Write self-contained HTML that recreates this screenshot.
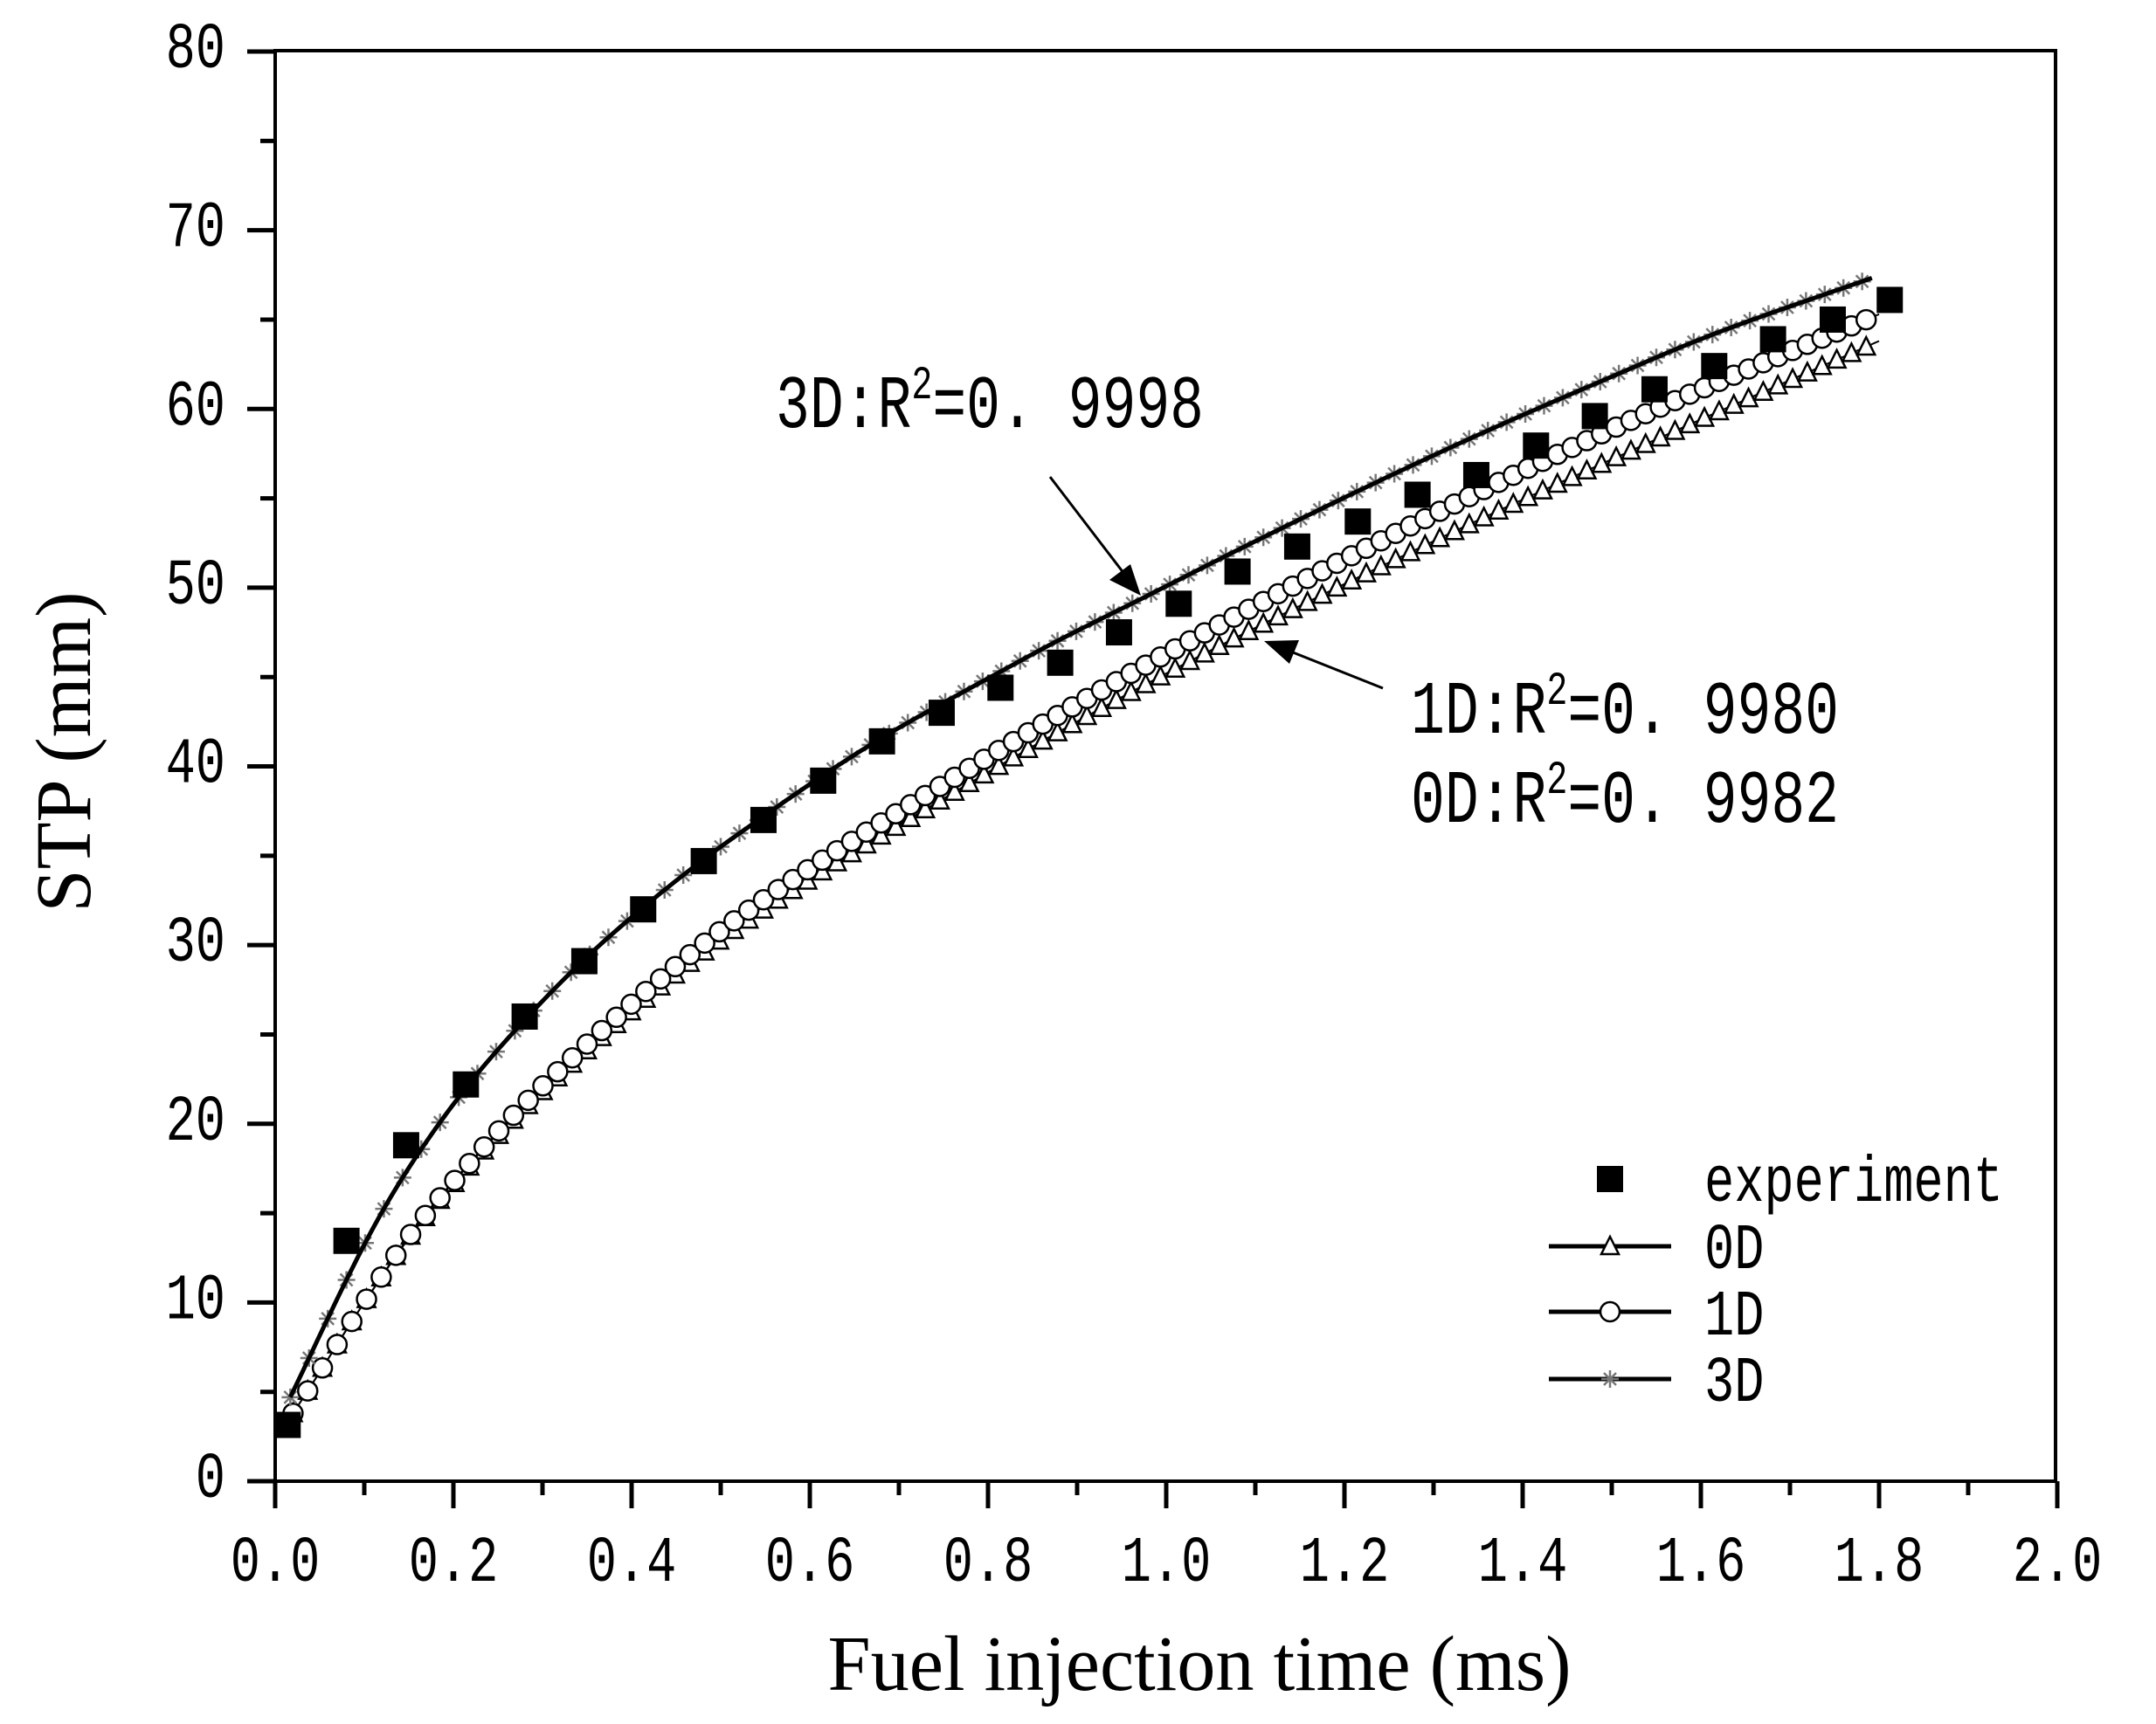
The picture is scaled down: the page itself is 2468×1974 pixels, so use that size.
<!DOCTYPE html>
<html><head><meta charset="utf-8"><style>
html,body{margin:0;padding:0;background:#fff}
svg{display:block}
.m{font-family:"Liberation Mono",monospace}
.s{font-family:"Liberation Serif",serif}
</style></head><body>
<svg id="c" width="2468" height="1974" viewBox="0 0 2468 1974" xmlns="http://www.w3.org/2000/svg">
<rect x="315" y="58" width="2038" height="1638" fill="none" stroke="#000" stroke-width="4"/>
<g id="ticks" stroke="#000" stroke-width="5"></g>
<g id="labels" class="m" font-size="57" fill="#000"></g>
<g id="series"></g>
<text class="s" font-size="90" x="1373" y="1935" text-anchor="middle" textLength="851" lengthAdjust="spacingAndGlyphs">Fuel injection time (ms)</text>
<text class="s" font-size="90" transform="translate(103,861) rotate(-90)" text-anchor="middle" textLength="367" lengthAdjust="spacingAndGlyphs">STP (mm)</text>
<g class="m" fill="#000">
<g transform="translate(888,489) scale(1,1.27)"><text font-size="68" x="0" y="0" textLength="490" lengthAdjust="spacingAndGlyphs">3D:R<tspan dy="-26" font-size="42">2</tspan><tspan dy="26">=0. 9998</tspan></text></g>
<g transform="translate(1615,839) scale(1,1.27)"><text font-size="68" x="0" y="0" textLength="490" lengthAdjust="spacingAndGlyphs">1D:R<tspan dy="-26" font-size="42">2</tspan><tspan dy="26">=0. 9980</tspan></text></g>
<g transform="translate(1615,941) scale(1,1.27)"><text font-size="68" x="0" y="0" textLength="490" lengthAdjust="spacingAndGlyphs">0D:R<tspan dy="-26" font-size="42">2</tspan><tspan dy="26">=0. 9982</tspan></text></g>
</g>
<line x1="1202" y1="546" x2="1290" y2="661" stroke="#000" stroke-width="3"/>
<polygon points="1306,682 1270,664 1294,646" fill="#000"/>
<line x1="1583" y1="788" x2="1470" y2="743" stroke="#000" stroke-width="3"/>
<polygon points="1447,734 1487,733 1476,760" fill="#000"/>
<g id="legend"></g>
</svg>
<script>
var NS="http://www.w3.org/2000/svg",svg=document.getElementById('c');
function X(v){return 315+v*1020}function Y(v){return 1696-v*20.4625}
function el(p,t,a){var e=document.createElementNS(NS,t);for(var k in a)e.setAttribute(k,a[k]);p.appendChild(e);return e}
var tk=document.getElementById('ticks'),lb=document.getElementById('labels');
for(var i=0;i<=20;i++){var x=X(i/10),maj=i%2==0;el(tk,'line',{x1:x,y1:1696,x2:x,y2:maj?1727:1712});
 if(maj){var g=el(lb,'g',{transform:'translate('+x+',1810) scale(1,1.3)'});var t=el(g,'text',{x:0,y:0,'text-anchor':'middle'});t.textContent=(i/10).toFixed(1);}}
for(var i=0;i<=16;i++){var y=Y(i*5),maj=i%2==0;el(tk,'line',{x1:maj?283:298,y1:y,x2:315,y2:y});
 if(maj){var g=el(lb,'g',{transform:'translate(258,'+(y+18)+') scale(1,1.3)'});var t=el(g,'text',{x:0,y:0,'text-anchor':'end'});t.textContent=String(i*5);}}
function interp(P,x){for(var i=0;i<P.length-1;i++){if(x<=P[i+1][0]){var p0=P[Math.max(i-1,0)],p1=P[i],p2=P[i+1],p3=P[Math.min(i+2,P.length-1)];var t=(x-p1[0])/(p2[0]-p1[0]);
 var m1=(p2[1]-p0[1])/(p2[0]-p0[0])*(p2[0]-p1[0]),m2=(p3[1]-p1[1])/(p3[0]-p1[0])*(p2[0]-p1[0]);var t2=t*t,t3=t2*t;
 return (2*t3-3*t2+1)*p1[1]+(t3-2*t2+t)*m1+(-2*t3+3*t2)*p2[1]+(t3-t2)*m2;}}return P[P.length-1][1]}
var D3=[[0.017,4.7],[0.096,12.85],[0.147,17.3],[0.214,22.0],[0.28,25.8],[0.347,29.2],[0.413,32.1],[0.481,34.8],[0.548,37.2],[0.615,39.5],[0.681,41.6],[0.748,43.5],[0.814,45.3],[0.881,47.1],[0.973,49.4],[1.08,52.1],[1.215,55.4],[1.348,58.5],[1.481,61.4],[1.615,64.2],[1.796,67.4]];
var D0=[[0.02,3.8],[0.041,5.4],[0.1,10.0],[0.169,14.8],[0.3,21.8],[0.5,30.3],[0.75,38.2],[1.0,45.2],[1.3,52.6],[1.55,58.3],[1.8,63.8]];
var D1=[[0.02,3.8],[0.041,5.4],[0.1,10.0],[0.169,14.9],[0.3,22.1],[0.5,30.8],[0.75,39.0],[1.0,46.3],[1.3,54.1],[1.55,60.0],[1.8,65.3]];
var S=document.getElementById('series');
function path(P,w,c){var d='';for(var x=P[0][0];x<=P[P.length-1][0]+1e-9;x+=0.005){d+=(d?'L':'M')+X(x).toFixed(1)+','+Y(interp(P,x)).toFixed(1)}el(S,'path',{d:d,fill:'none',stroke:c,'stroke-width':w})}
function tri(g,cx,cy){el(g,'polygon',{points:(cx)+','+(cy-11)+' '+(cx-10)+','+(cy+9)+' '+(cx+10)+','+(cy+9),fill:'#fff',stroke:'#000','stroke-width':2.5})}
function circ(g,cx,cy){el(g,'circle',{cx:cx,cy:cy,r:11,fill:'#fff',stroke:'#000','stroke-width':2.5})}
function star(g,cx,cy){var r=10;el(g,'path',{d:'M'+(cx-r)+','+cy+'h'+(2*r)+'M'+(cx-r*.7)+','+(cy-r*.7)+'l'+(1.4*r)+','+(1.4*r)+'M'+(cx-r*.7)+','+(cy+r*.7)+'l'+(1.4*r)+','+(-1.4*r)+'M'+cx+','+(cy-r)+'v'+(2*r),stroke:'#777','stroke-width':2.5,fill:'none'})}
path(D0,2,'#000');
var g0=el(S,'g',{});for(var x=0.02;x<=1.801;x+=0.0165){tri(g0,X(x),Y(interp(D0,x)))}
path(D1,2,'#000');
var g1=el(S,'g',{});for(var x=0.02;x<=1.801;x+=0.0165){circ(g1,X(x),Y(interp(D1,x)))}
var g3=el(S,'g',{});for(var x=0.017;x<=1.8;x+=0.021){star(g3,X(x),Y(interp(D3,x)))}
path(D3,5,'#000');
var E=[[0.014,3.15],[0.08,13.45],[0.147,18.8],[0.214,22.2],[0.28,26.0],[0.347,29.1],[0.413,32.0],[0.481,34.7],[0.548,37.0],[0.615,39.2],[0.681,41.4],[0.748,43.0],[0.814,44.4],[0.881,45.8],[0.947,47.5],[1.014,49.1],[1.08,50.9],[1.147,52.3],[1.215,53.7],[1.282,55.2],[1.348,56.3],[1.415,57.95],[1.481,59.6],[1.548,61.1],[1.615,62.4],[1.681,63.9],[1.748,65.0],[1.812,66.1]];
E.forEach(function(p){el(S,'rect',{x:X(p[0])-15,y:Y(p[1])-15,width:30,height:30,fill:'#000'})});
var L=document.getElementById('legend');
el(L,'rect',{x:1828,y:1335,width:30,height:30,fill:'#000'});
[[1427,tri],[1502,circ],[1579,star]].forEach(function(a){el(L,'line',{x1:1773,y1:a[0],x2:1913,y2:a[0],stroke:'#000','stroke-width':5});a[1](L,1843,a[0])});
[['experiment',1375],['0D',1452],['1D',1528],['3D',1604]].forEach(function(a){var g=el(L,'g',{transform:'translate(1951,'+a[1]+') scale(1,1.3)'});var t=el(g,'text',{x:0,y:0,'class':'m','font-size':57});t.textContent=a[0]});
</script>
</body></html>
